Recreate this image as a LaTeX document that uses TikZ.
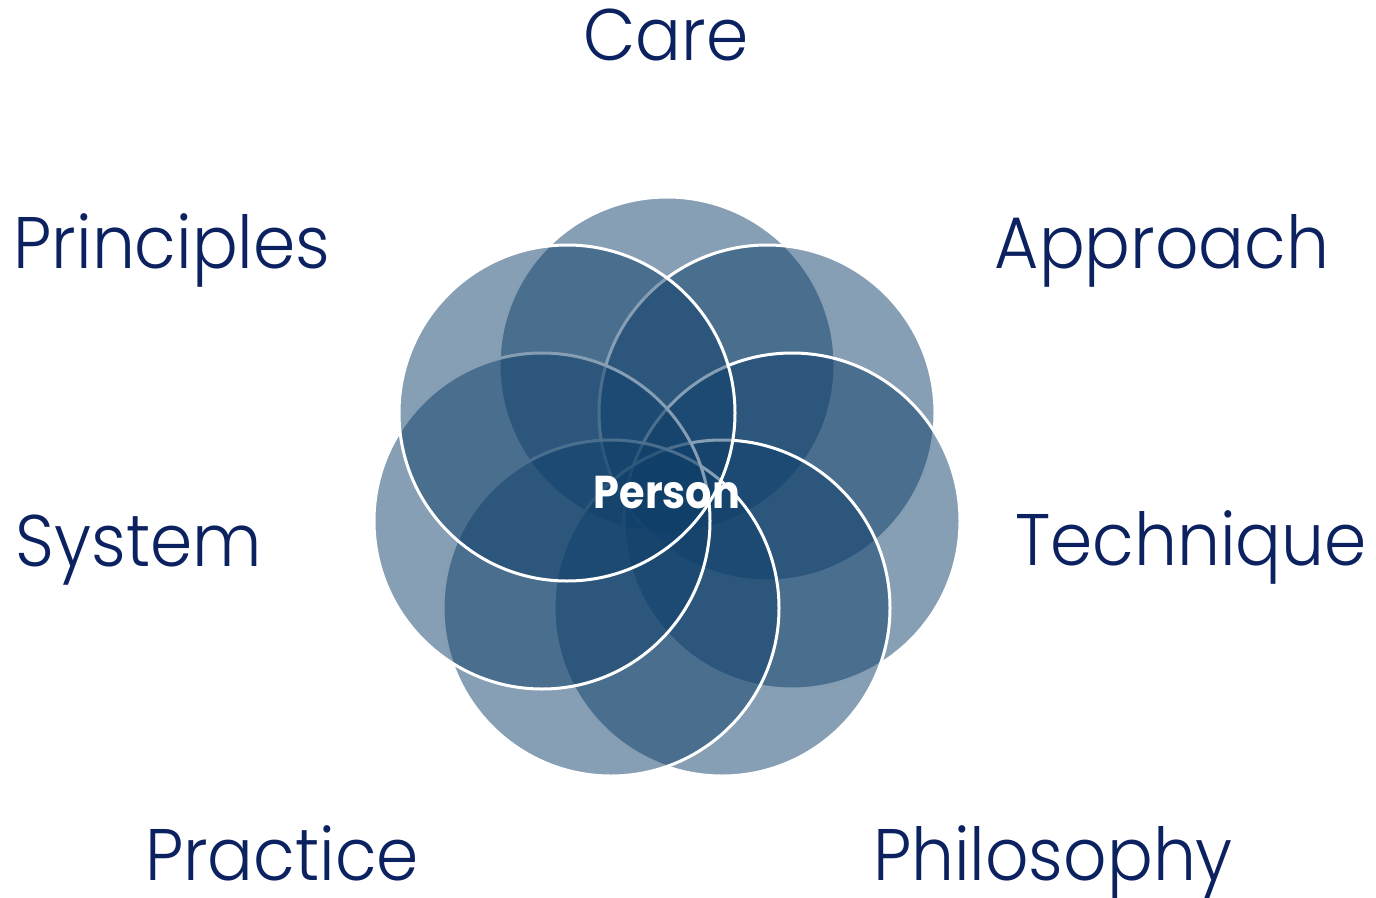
\documentclass[tikz,border=0pt]{standalone}
\usepackage{fontspec}
\setmainfont{Poppins}
\newfontfamily\labelfont{Poppins Light}[FakeStretch=0.93]
\newfontfamily\centrefont{Poppins}[FakeStretch=0.9]
\usetikzlibrary{shapes, positioning}

\definecolor{petalblue}{RGB}{15,63,105}
\definecolor{labelnavy}{RGB}{12,34,96}

\begin{document}
\begin{tikzpicture}[x=1pt, y=-1pt,
        petal/.style={circle, minimum size=336pt, inner sep=0pt,
            fill=petalblue, fill opacity=0.5, draw=white, line width=3pt},
        label/.style={anchor=base, inner sep=0pt, text=labelnavy,
            font=\labelfont\fontsize{73}{80}\selectfont}]
            \useasboundingbox (0, 0) rectangle (1376, 897);

            % circles, clockwise from the top
            \node[petal] (care-c) at (667, 365) {};
            \node[petal] (approach-c) at (767, 413) {};
            \node[petal] (technique-c) at (792, 521) {};
            \node[petal] (philosophy-c) at (722, 608) {};
            \node[petal] (practice-c) at (611, 608) {};
            \node[petal] (system-c) at (542, 521) {};
            \node[petal] (principles-c) at (567, 413) {};

            \node[anchor=base, inner sep=0pt, text=white, font=\centrefont\fontsize{46}{50}\selectfont\bfseries] (person) at (667, 508) {Person};

            \node[label] (care) at (666, 60) {Care};
            \node[label] (approach) at (1162, 268) {Approach};
            \node[label] (technique) at (1191, 565) {Technique};
            \node[label] (philosophy) at (1053, 880) {Philosophy};
            \node[label] (practice) at (282, 880) {Practice};
            \node[label] (system) at (139, 566) {System};
            \node[label] (principles) at (172, 268) {Principles};
        \end{tikzpicture}
\end{document}
